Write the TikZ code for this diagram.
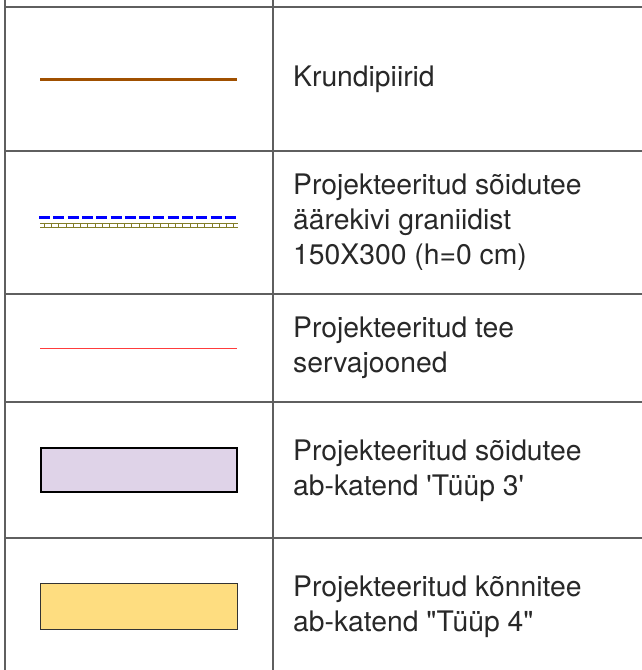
\documentclass[tikz,border=0pt]{standalone}
\usepackage{fontspec}
\setmainfont{TeX Gyre Heros}
\usepackage{tikz}

\definecolor{rulegray}{RGB}{95,95,95}
\definecolor{plotbrown}{RGB}{160,80,0}
\definecolor{curbblue}{RGB}{0,0,255}
\definecolor{curbolive}{RGB}{130,125,40}
\definecolor{roadred}{RGB}{255,60,60}
\definecolor{roadlilac}{RGB}{223,211,232}
\definecolor{walkyellow}{RGB}{254,221,128}
\definecolor{labelink}{RGB}{40,40,40}

\tikzset{
  rule/.style={rulegray, line width=1.3pt},
  legendtext/.style={anchor=west, align=left, inner sep=0pt, text=labelink,
    font=\fontsize{28.3}{35}\selectfont}
}

\begin{document}
\begin{tikzpicture}[x=1pt, y=-1pt]
\useasboundingbox (0,0) rectangle (642,670);

\draw[rule] (5,0) -- (5,670);
\draw[rule] (273,0) -- (273,670);
\draw[rule] (5,7) -- (642,7);
\draw[rule] (5,151) -- (642,151);
\draw[rule] (5,294) -- (642,294);
\draw[rule] (5,402) -- (642,402);
\draw[rule] (5,538) -- (642,538);

\draw[plotbrown, line width=3pt] (40,79) -- (237,79);
\node[legendtext] (t1) at (293,79) {Krundipiirid};

\draw[curbblue, line width=3pt, dash pattern=on 11pt off 3.3pt] (39,217) -- (239,217);
\draw[curbolive, line width=1pt] (40,223) -- (238,223);
\draw[curbolive, line width=1pt] (40,227.5) -- (238,227.5);
\foreach \x in {44,51.3,...,238}
  \draw[curbolive, line width=0.8pt] (\x,223) -- (\x,227.5);
\node[legendtext] (t2) at (293,222) {Projekteeritud sõidutee\\äärekivi graniidist\\150X300 (h=0 cm)};

\draw[roadred, line width=1pt] (40,348) -- (237,348);
\node[legendtext] (t3) at (293,348) {Projekteeritud tee\\servajooned};

\draw[black, fill=roadlilac, line width=2pt] (41,448) rectangle (237,492);
\node[legendtext] (t4) at (293,471) {Projekteeritud sõidutee\\ab-katend \textquotesingle Tüüp 3\textquotesingle};

\draw[black!80, fill=walkyellow, line width=1pt] (40,583) rectangle (237,629);
\node[legendtext] (t5) at (293,607) {Projekteeritud kõnnitee\\ab-katend \textquotedbl Tüüp 4\textquotedbl};

\end{tikzpicture}
\end{document}
